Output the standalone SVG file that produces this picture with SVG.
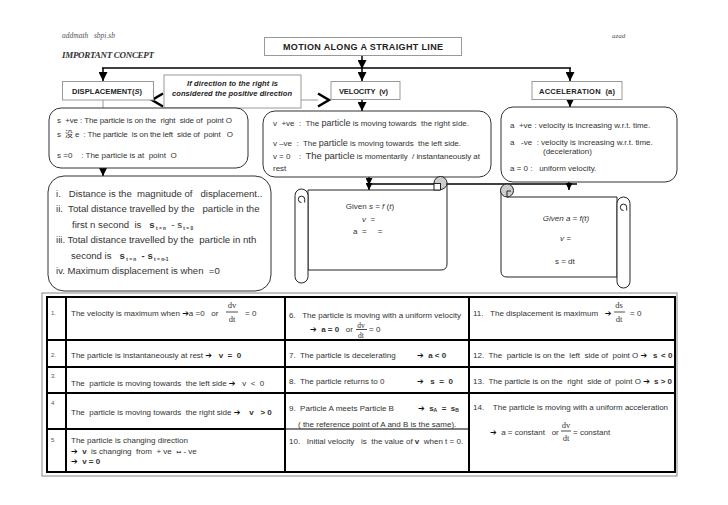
<svg xmlns="http://www.w3.org/2000/svg" width="728" height="505" viewBox="0 0 728 505" xml:space="preserve">
<style>
text{white-space:pre}
.f{font-family:"Liberation Sans",Arial,"Noto Sans CJK SC",sans-serif;fill:#333;font-size:8px}
.h{font-family:"Liberation Sans",Arial,sans-serif;font-weight:bold;fill:#222;font-size:7.5px}
.sr{font-family:"Liberation Serif","Times New Roman",serif}
.sym{font-family:"DejaVu Sans",sans-serif;fill:#111}
.b{font-weight:bold}
.it{font-style:italic}
.hb{fill:#fff;stroke:#999;stroke-width:1}
.rb{fill:#fff;stroke:#333;stroke-width:1}
.ln{stroke:#000;stroke-width:1.5;fill:none}
.gl{stroke:#999;stroke-width:1;fill:none}
.tk{stroke:#000;stroke-width:2;fill:none}
.th{stroke:#000;stroke-width:1;fill:none}
.fr{stroke:#000;stroke-width:0.7}
.sc{fill:#fff;stroke:#222;stroke-width:1}
.cu{fill:#ccc;stroke:#222;stroke-width:1}
.chev{stroke:#000;stroke-width:2.5;fill:none}
.num{font-size:6px;fill:#555}
.sb{font-size:4.8px;font-weight:bold}
.big{font-size:9.6px}
.ttl{font-size:9px}
</style>
<defs>
<marker id="ah" viewBox="0 0 10 10" refX="10" refY="5" markerWidth="9" markerHeight="9" markerUnits="userSpaceOnUse" orient="auto"><path d="M0,0L10,5L0,10z" fill="#000"/></marker>
<marker id="ahs" viewBox="0 0 10 10" refX="10" refY="5" markerWidth="7" markerHeight="7" markerUnits="userSpaceOnUse" orient="auto"><path d="M0,0L10,5L0,10z" fill="#000"/></marker>
</defs>
<rect width="728" height="505" fill="#fff"/>

<g id="header">
<text class="sr it" x="62" y="38" font-size="7.5" fill="#555">addmath   sbpi.sb</text>
<text class="sr it" x="612" y="38" font-size="7" fill="#555">azad</text>
<text class="sr it b" x="62" y="58" font-size="9" fill="#333" textLength="92">IMPORTANT CONCEPT</text>
</g>

<g id="connectors">
<line class="ln" x1="362" y1="55" x2="362" y2="69" marker-end="url(#ah)"/>
<line class="ln" x1="362" y1="69" x2="362" y2="81" marker-end="url(#ah)"/>
<line class="ln" x1="102" y1="68" x2="571" y2="68"/>
<line class="ln" x1="103" y1="68" x2="103" y2="81" marker-end="url(#ah)"/>
<line class="ln" x1="570" y1="68" x2="570" y2="81" marker-end="url(#ah)"/>
<line class="gl" x1="103" y1="100" x2="103" y2="108"/>
<line class="gl" x1="301" y1="100" x2="318" y2="100"/>
<path class="chev" d="M163,93.5 L152,100 L163,106.5"/>
<path class="chev" d="M318,93.5 L329,100 L318,106.5"/>
<line class="ln" x1="362" y1="99" x2="362" y2="111" marker-end="url(#ah)"/>
<line class="ln" x1="570" y1="99" x2="570" y2="107" marker-end="url(#ah)"/>
<line class="ln" x1="103" y1="168" x2="103" y2="176" marker-end="url(#ah)"/>
<line class="ln" x1="369" y1="177" x2="369" y2="185" marker-end="url(#ahs)"/>
<line class="ln" x1="369" y1="184" x2="369" y2="190" marker-end="url(#ahs)"/>
<line class="ln" x1="369" y1="184" x2="577" y2="184"/>
<line class="ln" x1="569" y1="182" x2="569" y2="190" marker-end="url(#ahs)"/>
</g>

<g id="title">
<rect class="hb" x="264.5" y="37.5" width="197" height="18"/>
<text class="h ttl" x="283" y="50" textLength="160">MOTION ALONG A STRAIGHT LINE</text>
</g>
<g id="displacement">
<rect class="hb" x="62.5" y="81.5" width="91" height="18.5"/>
<text class="h" x="72" y="94" textLength="70">DISPLACEMENT(<tspan class="it">S</tspan>)</text>
</g>
<g id="note">
<rect class="hb" x="164" y="75" width="137" height="33"/>
<text class="h it" x="187" y="86" textLength="91">If direction to the right is</text>
<text class="h it" x="172" y="96" textLength="120">considered the positive direction</text>
</g>
<g id="velocity">
<rect class="hb" x="331" y="81.5" width="69" height="18"/>
<text class="h" x="339" y="94" textLength="49">VELOCITY  (v)</text>
</g>
<g id="acceleration">
<rect class="hb" x="532" y="81.5" width="90" height="18"/>
<text class="h" x="539" y="94" textLength="76">ACCELERATION  (a)</text>
</g>

<g id="s-signs">
<rect class="rb" x="49" y="108" width="199" height="60" rx="12"/>
<text class="f" x="57" y="123" textLength="175">s  +ve : The particle is on the  right  side of  point O</text>
<text class="f" x="57" y="137" textLength="176">s  没 e  : The particle  is on the left  side of  point   O</text>
<text class="f" x="57" y="158">s =0    : The particle is at  point  O</text>
</g>

<g id="distance">
<rect class="rb" x="48" y="176" width="223" height="115" rx="16" stroke-width="1.4"/>
<text class="f big" x="56" y="197">i.   Distance is the  magnitude of   displacement..</text>
<text class="f big" x="56" y="212">ii.  Total distance travelled by the   particle in the</text>
<text class="f big" y="228"><tspan x="72">first n second  is   </tspan><tspan class="b">s</tspan><tspan class="sb" dy="2"> t = n</tspan><tspan dy="-2">  - s</tspan><tspan class="sb" dy="2"> t = 0</tspan></text>
<text class="f big" x="56" y="243">iii. Total distance travelled by the  particle in nth</text>
<text class="f big" y="259"><tspan x="71">second is   </tspan><tspan class="b">s</tspan><tspan class="sb" dy="2"> t = n</tspan><tspan class="b" dy="-2">  - s</tspan><tspan class="sb" dy="2"> t = n-1</tspan></text>
<text class="f big" x="56" y="274">iv. Maximum displacement is when  =0</text>
</g>

<g id="v-signs">
<rect class="rb" x="263" y="111" width="228" height="66" rx="12"/>
<text class="f" x="273" y="126" textLength="196">v  +ve  :  The <tspan font-size="9">particle</tspan> is moving towards  the right side.</text>
<text class="f" x="273" y="146" textLength="188">v –ve  :  The <tspan font-size="9">particle</tspan> is moving towards  the left side.</text>
<text class="f" x="273" y="159" textLength="207">v = 0    :  <tspan font-size="9.5">The particle</tspan> is momentarily  / instantaneously at</text>
<text class="f" x="273" y="171">rest</text>
</g>

<g id="a-signs">
<rect class="rb" x="501" y="107" width="176" height="75" rx="12"/>
<text class="f" x="510" y="128">a  +ve : velocity is increasing w.r.t. time.</text>
<text class="f" x="510" y="145">a   -ve  : velocity is increasing w.r.t. time.</text>
<text class="f" x="543" y="154">(deceleration)</text>
<text class="f" x="510" y="171">a = 0 :   uniform velocity.</text>
</g>

<g id="scroll-s">
<path class="sc" d="M308,190 H440 V183 H447 V264 Q447,270 441,270 H308 Z"/>
<circle class="cu" cx="440.5" cy="183" r="6.5"/>
<rect class="sc" x="434" y="183.5" width="6.5" height="6.5"/>
<rect class="sc" x="295" y="189" width="13" height="94" rx="6.5"/>
<path class="sc" fill="none" d="M301.5,202.5 A3.2,3.2 0 1 1 304.7,199.3 L304.7,202.5"/>
<text class="f" x="370" y="209" text-anchor="middle">Given <tspan class="it">s</tspan> = <tspan class="it">f</tspan> (<tspan class="it">t</tspan>)</text>
<text class="f" x="362" y="222"><tspan class="it">v</tspan>  =</text>
<text class="f" x="353" y="234">a  =     =</text>
</g>

<g id="scroll-a">
<path class="sc" d="M617,197 H507 V190 H501 V271 Q501,277 507,277 H617 Z"/>
<circle class="cu" cx="507" cy="190.5" r="6.5"/>
<path fill="none" stroke="#222" stroke-width="1" d="M507,197 V191 H511"/>
<rect class="sc" x="617" y="197" width="13" height="91" rx="6.5"/>
<path class="sc" fill="none" d="M623.5,210.5 A3.2,3.2 0 1 1 626.7,207.3 L626.7,210.5"/>
<text class="f it" x="566" y="221" text-anchor="middle">Given a = f(t)</text>
<text class="f it" x="560" y="241" fill="#999">v =</text>
<text class="f" x="555" y="264">s = dt</text>
</g>

<g id="table">
<rect x="42" y="293" width="635" height="183" fill="none" stroke="#888" stroke-width="1"/>
<rect class="tk" x="47" y="297" width="628" height="175"/>
<line class="tk" x1="66" y1="297" x2="66" y2="472"/>
<line class="tk" x1="285" y1="297" x2="285" y2="472"/>
<line class="tk" x1="469" y1="297" x2="469" y2="472"/>
<line class="tk" x1="47" y1="340" x2="675" y2="340"/>
<line class="tk" x1="47" y1="367" x2="675" y2="367"/>
<line class="tk" x1="47" y1="393" x2="675" y2="393"/>
<line class="tk" x1="47" y1="429" x2="285" y2="429"/>
<line class="th" x1="285" y1="429" x2="469" y2="429"/>
</g>

<g id="row1">
<text class="f num" x="51" y="315">1.</text>
<text class="f" y="316"><tspan x="71">The velocity is maximum when </tspan><tspan class="sym">➔</tspan><tspan>a =0   or</tspan></text>
<text class="sr" x="232" y="308" font-size="8.5" text-anchor="middle" fill="#333">dv</text>
<line class="fr" x1="226" y1="312" x2="238" y2="312"/>
<text class="sr" x="232" y="322" font-size="8.5" text-anchor="middle" fill="#333">dt</text>
<text class="f" x="245" y="316">= 0</text>
<text class="f" x="289" y="318">6.   The particle is moving with a uniform velocity</text>
<text class="f" y="332"><tspan class="sym" x="310">➔</tspan><tspan class="b">  a = 0</tspan><tspan>   or</tspan></text>
<text class="sr" x="361" y="327.5" font-size="7.5" text-anchor="middle" fill="#333">dv</text>
<line class="fr" x1="356" y1="329.5" x2="367" y2="329.5"/>
<text class="sr" x="361" y="337.5" font-size="7.5" text-anchor="middle" fill="#333">dt</text>
<text class="f" x="369" y="332">= 0</text>
<text class="f" y="316"><tspan x="473">11.   The displacement is maximum   </tspan><tspan class="sym">➔</tspan></text>
<text class="sr" x="619" y="308" font-size="8.5" text-anchor="middle" fill="#333">ds</text>
<line class="fr" x1="614" y1="312" x2="625" y2="312"/>
<text class="sr" x="619" y="322" font-size="8.5" text-anchor="middle" fill="#333">dt</text>
<text class="f" x="630" y="316">= 0</text>
</g>

<g id="row2">
<text class="f num" x="51" y="357">2.</text>
<text class="f" y="358"><tspan x="71">The particle is instantaneously at rest </tspan><tspan class="sym">➔</tspan><tspan class="b">   v  =  0</tspan></text>
<text class="f" x="289" y="358">7.  The particle is decelerating</text>
<text class="f" y="358"><tspan class="sym" x="417">➔</tspan><tspan class="b">  a &lt; 0</tspan></text>
<text class="f" y="358"><tspan x="473">12.  The  particle is on the  left  side of  point O </tspan><tspan class="sym">➔</tspan><tspan class="b" x="653">s</tspan><tspan class="b" x="661">&lt; 0</tspan></text>
</g>

<g id="row3">
<text class="f num" x="51" y="378">3.</text>
<text class="f" y="386"><tspan x="71">The  particle is moving towards  the left side </tspan><tspan class="sym">➔</tspan><tspan>   v  &lt;  0</tspan></text>
<text class="f" x="289" y="384">8.  The particle returns to 0</text>
<text class="f" y="384"><tspan class="sym" x="417">➔</tspan><tspan class="b">   s  =  0</tspan></text>
<text class="f" y="384"><tspan x="473">13.  The particle is on the  right  side of  point O </tspan><tspan class="sym">➔</tspan><tspan class="b" x="654">s &gt; 0</tspan></text>
</g>

<g id="row4">
<text class="f num" x="51" y="405">4</text>
<text class="f" y="415"><tspan x="71">The  particle is moving towards  the right side </tspan><tspan class="sym">➔</tspan><tspan class="b">    v   &gt; 0</tspan></text>
<text class="f" x="289" y="411">9.  Particle A meets Particle B</text>
<text class="f b" y="411"><tspan class="sym" x="418">➔</tspan><tspan>  s</tspan><tspan font-size="5" dy="1">A</tspan><tspan dy="-1">  =  s</tspan><tspan font-size="5" dy="1">B</tspan></text>
<text class="f" x="298" y="427">( the reference point of A and B is the same).</text>
<text class="f" x="473" y="410">14.    The particle is moving with a uniform acceleration</text>
<text class="f" y="435"><tspan class="sym" x="490">➔</tspan><tspan>  a = constant   or</tspan></text>
<text class="sr" x="566" y="428" font-size="8.5" text-anchor="middle" fill="#333">dv</text>
<line class="fr" x1="561" y1="431" x2="571" y2="431"/>
<text class="sr" x="566" y="441" font-size="8.5" text-anchor="middle" fill="#333">dt</text>
<text class="f" x="573" y="435">= constant</text>
</g>

<g id="row5">
<text class="f num" x="51" y="442">5</text>
<text class="f" x="71" y="443">The particle is changing direction</text>
<text class="f" y="454"><tspan class="sym" x="71">➔</tspan><tspan class="b">  v</tspan><tspan>  is changing  from  + ve  </tspan><tspan class="sym" font-size="6">↔</tspan><tspan> - ve</tspan></text>
<text class="f b" y="464"><tspan class="sym" x="71">➔</tspan><tspan>  v = 0</tspan></text>
<text class="f" y="444"><tspan x="289">10.   Initial velocity   is  the value of </tspan><tspan class="b">v</tspan><tspan>  when t = 0.</tspan></text>
</g>
</svg>
